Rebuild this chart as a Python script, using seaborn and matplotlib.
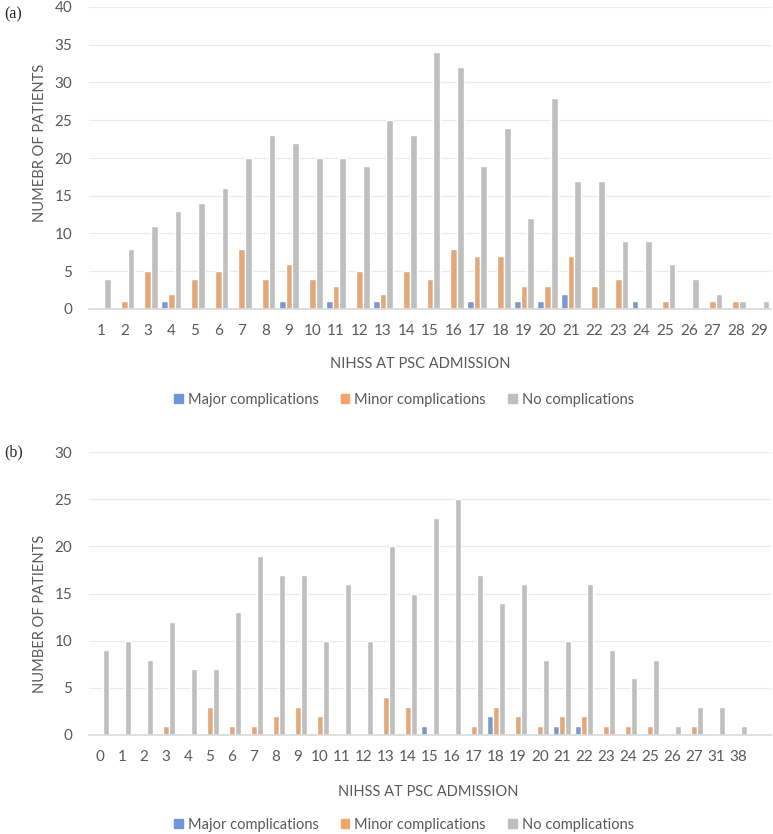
import pandas as pd
import seaborn as sns
import matplotlib.pyplot as plt

# panel (a) values
nihss_a = [str(i) for i in range(1, 30)]
major_a = [0, 0, 0, 1, 0, 0, 0, 0, 1, 0, 1, 0, 1, 0, 0, 0, 1, 0, 1, 1, 2, 0, 0, 1, 0, 0, 0, 0, 0]
minor_a = [0, 1, 5, 2, 4, 5, 8, 4, 6, 4, 3, 5, 2, 5, 4, 8, 7, 7, 3, 3, 7, 3, 4, 0, 1, 0, 1, 1, 0]
none_a = [4, 8, 11, 13, 14, 16, 20, 23, 22, 20, 20, 19, 25, 23, 34, 32, 19, 24, 12, 28, 17, 17, 9, 9, 6, 4, 2, 1, 1]

# panel (b) values
nihss_b = [str(i) for i in range(0, 28)] + ["31", "38"]
major_b = [0, 0, 0, 0, 0, 0, 0, 0, 0, 0, 0, 0, 0, 0, 0, 1, 0, 0, 2, 0, 0, 1, 1, 0, 0, 0, 0, 0, 0, 0]
minor_b = [0, 0, 0, 1, 0, 3, 1, 1, 2, 3, 2, 0, 0, 4, 3, 0, 0, 1, 3, 2, 1, 2, 2, 1, 1, 1, 0, 1, 0, 0]
none_b = [9, 10, 8, 12, 7, 7, 13, 19, 17, 17, 10, 16, 10, 20, 15, 23, 25, 17, 14, 16, 8, 10, 16, 9, 6, 8, 1, 3, 3, 1]

groups = ["Major complications", "Minor complications", "No complications"]
colors = ["#7096D8", "#F4A468", "#BFBFBF"]


def long_form(cats, major, minor, none):
    rows = []
    for vals, g in zip([major, minor, none], groups):
        for c, v in zip(cats, vals):
            rows.append({"nihss": c, "group": g, "count": v})
    return pd.DataFrame(rows)


sns.set_style("white")
plt.rcParams["font.family"] = ["Lato", "DejaVu Sans"]

fig = plt.figure(figsize=(7.73, 8.34), dpi=100)
ax_a = fig.add_axes([89 / 773, 1 - 309 / 834, (771 - 89) / 773, (309 - 7) / 834])
ax_b = fig.add_axes([89 / 773, 1 - 735 / 834, (771 - 89) / 773, (735 - 452) / 834])

df_a = long_form(nihss_a, major_a, minor_a, none_a)
df_b = long_form(nihss_b, major_b, minor_b, none_b)

sns.barplot(data=df_a, x="nihss", y="count", hue="group", order=nihss_a,
            hue_order=groups, palette=colors, width=0.86, ax=ax_a, legend=False)
sns.barplot(data=df_b, x="nihss", y="count", hue="group", order=nihss_b,
            hue_order=groups, palette=colors, width=0.82, ax=ax_b, legend=False)

for ax, ymax, n in [(ax_a, 40, len(nihss_a)), (ax_b, 30, len(nihss_b) + 1)]:
    ax.set_ylim(0, ymax)
    ax.set_xlim(-0.5, n - 0.5)
    ax.set_yticks(range(0, ymax + 1, 5))
    ax.grid(axis="y", color="#EAEAEA", lw=0.9)
    ax.set_axisbelow(True)
    for s in ["top", "right", "left"]:
        ax.spines[s].set_visible(False)
    ax.spines["bottom"].set_color("#D9D9D9")
    ax.spines["bottom"].set_linewidth(1.2)
    ax.tick_params(length=0, labelsize=11, labelcolor="#595959")
    ax.tick_params(axis="y", pad=12)
    ax.tick_params(axis="x", pad=11)
    ax.set_xlabel("")
    ax.set_ylabel("")

fig.text(420 / 773, 1 - 364 / 834, "NIHSS AT PSC ADMISSION", ha="center", va="center",
         fontsize=10.5, color="#595959")
fig.text(428 / 773, 1 - 792 / 834, "NIHSS AT PSC ADMISSION", ha="center", va="center",
         fontsize=10.5, color="#595959")
fig.text(40 / 773, 1 - 143 / 834, "NUMEBR OF PATIENTS", rotation=90, ha="center", va="center",
         fontsize=10.5, color="#595959")
fig.text(40 / 773, 1 - 614 / 834, "NUMBER OF PATIENTS", rotation=90, ha="center", va="center",
         fontsize=10.5, color="#595959")
fig.text(4 / 773, 1 - 14 / 834, "(a)", ha="left", va="center", fontsize=11.5,
         family="Liberation Serif")
fig.text(4 / 773, 1 - 452 / 834, "(b)", ha="left", va="center", fontsize=11.5,
         family="Liberation Serif")

handles = [plt.Rectangle((0, 0), 1, 1, color=c) for c in colors]
for ax, ypos in [(ax_a, 1 - 400 / 834), (ax_b, 1 - 825 / 834)]:
    leg = ax.legend(handles, groups, loc="center", bbox_to_anchor=(404 / 773, ypos),
                    bbox_transform=fig.transFigure, ncol=3, frameon=False,
                    handlelength=0.6, handleheight=0.6, handletextpad=0.35,
                    columnspacing=1.5, fontsize=10.5)
    for t in leg.get_texts():
        t.set_color("#595959")

fig.savefig("out.png", dpi=100)
